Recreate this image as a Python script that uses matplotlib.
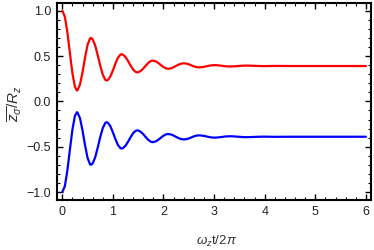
import matplotlib
matplotlib.use("Agg")
import matplotlib.pyplot as plt
from matplotlib.ticker import MultipleLocator

plt.rcParams['font.family'] = ['Liberation Sans', 'DejaVu Sans']
plt.rcParams['mathtext.fontset'] = 'custom'
plt.rcParams['mathtext.rm'] = 'Liberation Sans'
plt.rcParams['mathtext.it'] = 'Liberation Sans:italic'
plt.rcParams['mathtext.sf'] = 'Liberation Sans'

t = [0.00, 0.05, 0.10, 0.15, 0.20, 0.25, 0.29, 0.30, 0.35, 0.40, 0.45, 0.50, 0.55, 0.565,
     0.60, 0.65, 0.70, 0.75, 0.80, 0.85, 0.875, 0.90, 0.95, 1.00, 1.05, 1.10, 1.15, 1.17,
     1.20, 1.25, 1.30, 1.35, 1.40, 1.45, 1.48, 1.50, 1.55, 1.60, 1.65, 1.70, 1.75, 1.79,
     1.85, 1.90, 1.95, 2.00, 2.05, 2.09, 2.15, 2.20, 2.25, 2.30, 2.35, 2.40, 2.45, 2.50,
     2.55, 2.60, 2.65, 2.70, 2.75, 2.80, 2.85, 2.90, 2.95, 3.01, 3.05, 3.10, 3.15, 3.20,
     3.25, 3.31, 3.35, 3.40, 3.45, 3.50, 3.55, 3.62, 3.70, 3.80, 3.90, 4.00, 4.20, 4.50,
     5.00, 5.50, 6.00]

z_up = [1.000, 0.937, 0.766, 0.536, 0.313, 0.160, 0.120, 0.122, 0.186, 0.320, 0.484, 0.624, 0.696, 0.700,
        0.685, 0.618, 0.512, 0.395, 0.295, 0.238, 0.230, 0.235, 0.274, 0.341, 0.417, 0.481, 0.517, 0.520,
        0.515, 0.489, 0.445, 0.395, 0.351, 0.325, 0.320, 0.321, 0.336, 0.362, 0.395, 0.425, 0.445, 0.450,
        0.441, 0.423, 0.400, 0.379, 0.364, 0.360, 0.365, 0.377, 0.392, 0.406, 0.416, 0.420, 0.417, 0.409,
        0.398, 0.386, 0.378, 0.375, 0.377, 0.381, 0.387, 0.393, 0.398, 0.400, 0.399, 0.396, 0.393, 0.389,
        0.386, 0.385, 0.385, 0.387, 0.389, 0.391, 0.393, 0.395, 0.394, 0.392, 0.390, 0.389, 0.391, 0.390,
        0.390, 0.390, 0.390]

z_down = [-1.000, -0.937, -0.766, -0.536, -0.313, -0.160, -0.120, -0.122, -0.186, -0.320, -0.484, -0.624, -0.696, -0.700,
          -0.685, -0.618, -0.512, -0.395, -0.295, -0.238, -0.230, -0.235, -0.274, -0.341, -0.417, -0.481, -0.517, -0.520,
          -0.515, -0.489, -0.445, -0.395, -0.351, -0.325, -0.320, -0.321, -0.336, -0.362, -0.395, -0.425, -0.445, -0.450,
          -0.441, -0.423, -0.400, -0.379, -0.364, -0.360, -0.365, -0.377, -0.392, -0.406, -0.416, -0.420, -0.417, -0.409,
          -0.398, -0.386, -0.378, -0.375, -0.377, -0.381, -0.387, -0.393, -0.398, -0.400, -0.399, -0.396, -0.393, -0.389,
          -0.386, -0.385, -0.385, -0.387, -0.389, -0.391, -0.393, -0.395, -0.394, -0.392, -0.390, -0.389, -0.391, -0.390,
          -0.390, -0.390, -0.390]

x_ticks = [0, 1, 2, 3, 4, 5, 6]
y_ticks = [-1.0, -0.5, 0.0, 0.5, 1.0]
y_ticklabels = ["\u22121.0", "\u22120.5", "0.0", "0.5", "1.0"]

fig = plt.figure(figsize=(3.74, 2.5), dpi=100)
ax = fig.add_axes([0.1516, 0.2, 0.992 - 0.1516, 0.989 - 0.2])

ax.plot(t, z_up, color=(1, 0, 0), lw=1.6, solid_capstyle='round')
ax.plot(t, z_down, color=(0, 0, 1), lw=1.6, solid_capstyle='round')

ax.set_xlim(-0.11, 6.1)
ax.set_ylim(-1.088, 1.088)
ax.set_xticks(x_ticks)
ax.set_xticklabels([str(v) for v in x_ticks])
ax.set_yticks(y_ticks)
ax.set_yticklabels(y_ticklabels)
ax.xaxis.set_minor_locator(MultipleLocator(0.2))
ax.yaxis.set_minor_locator(MultipleLocator(0.1))

for s in ax.spines.values():
    s.set_linewidth(1.5)
    s.set_color('black')

ax.tick_params(which='both', direction='in', top=True, right=True, labelsize=9, colors='black', pad=4)
ax.tick_params(which='major', length=4, width=1.0)
ax.tick_params(which='minor', length=2.2, width=0.8)
for lbl in ax.get_xticklabels() + ax.get_yticklabels():
    lbl.set_color('#222222')

ax.set_xlabel(r"$\omega_z$t/2$\pi$", fontsize=9.5, color='#333333')
ax.xaxis.set_label_coords(0.51, -0.17)
ax.set_ylabel(r"$\overline{z_\sigma}/R_z$", fontsize=11, color='#333333')
ax.yaxis.set_label_coords(-0.105, 0.49)

fig.savefig("out.png", dpi=100)
